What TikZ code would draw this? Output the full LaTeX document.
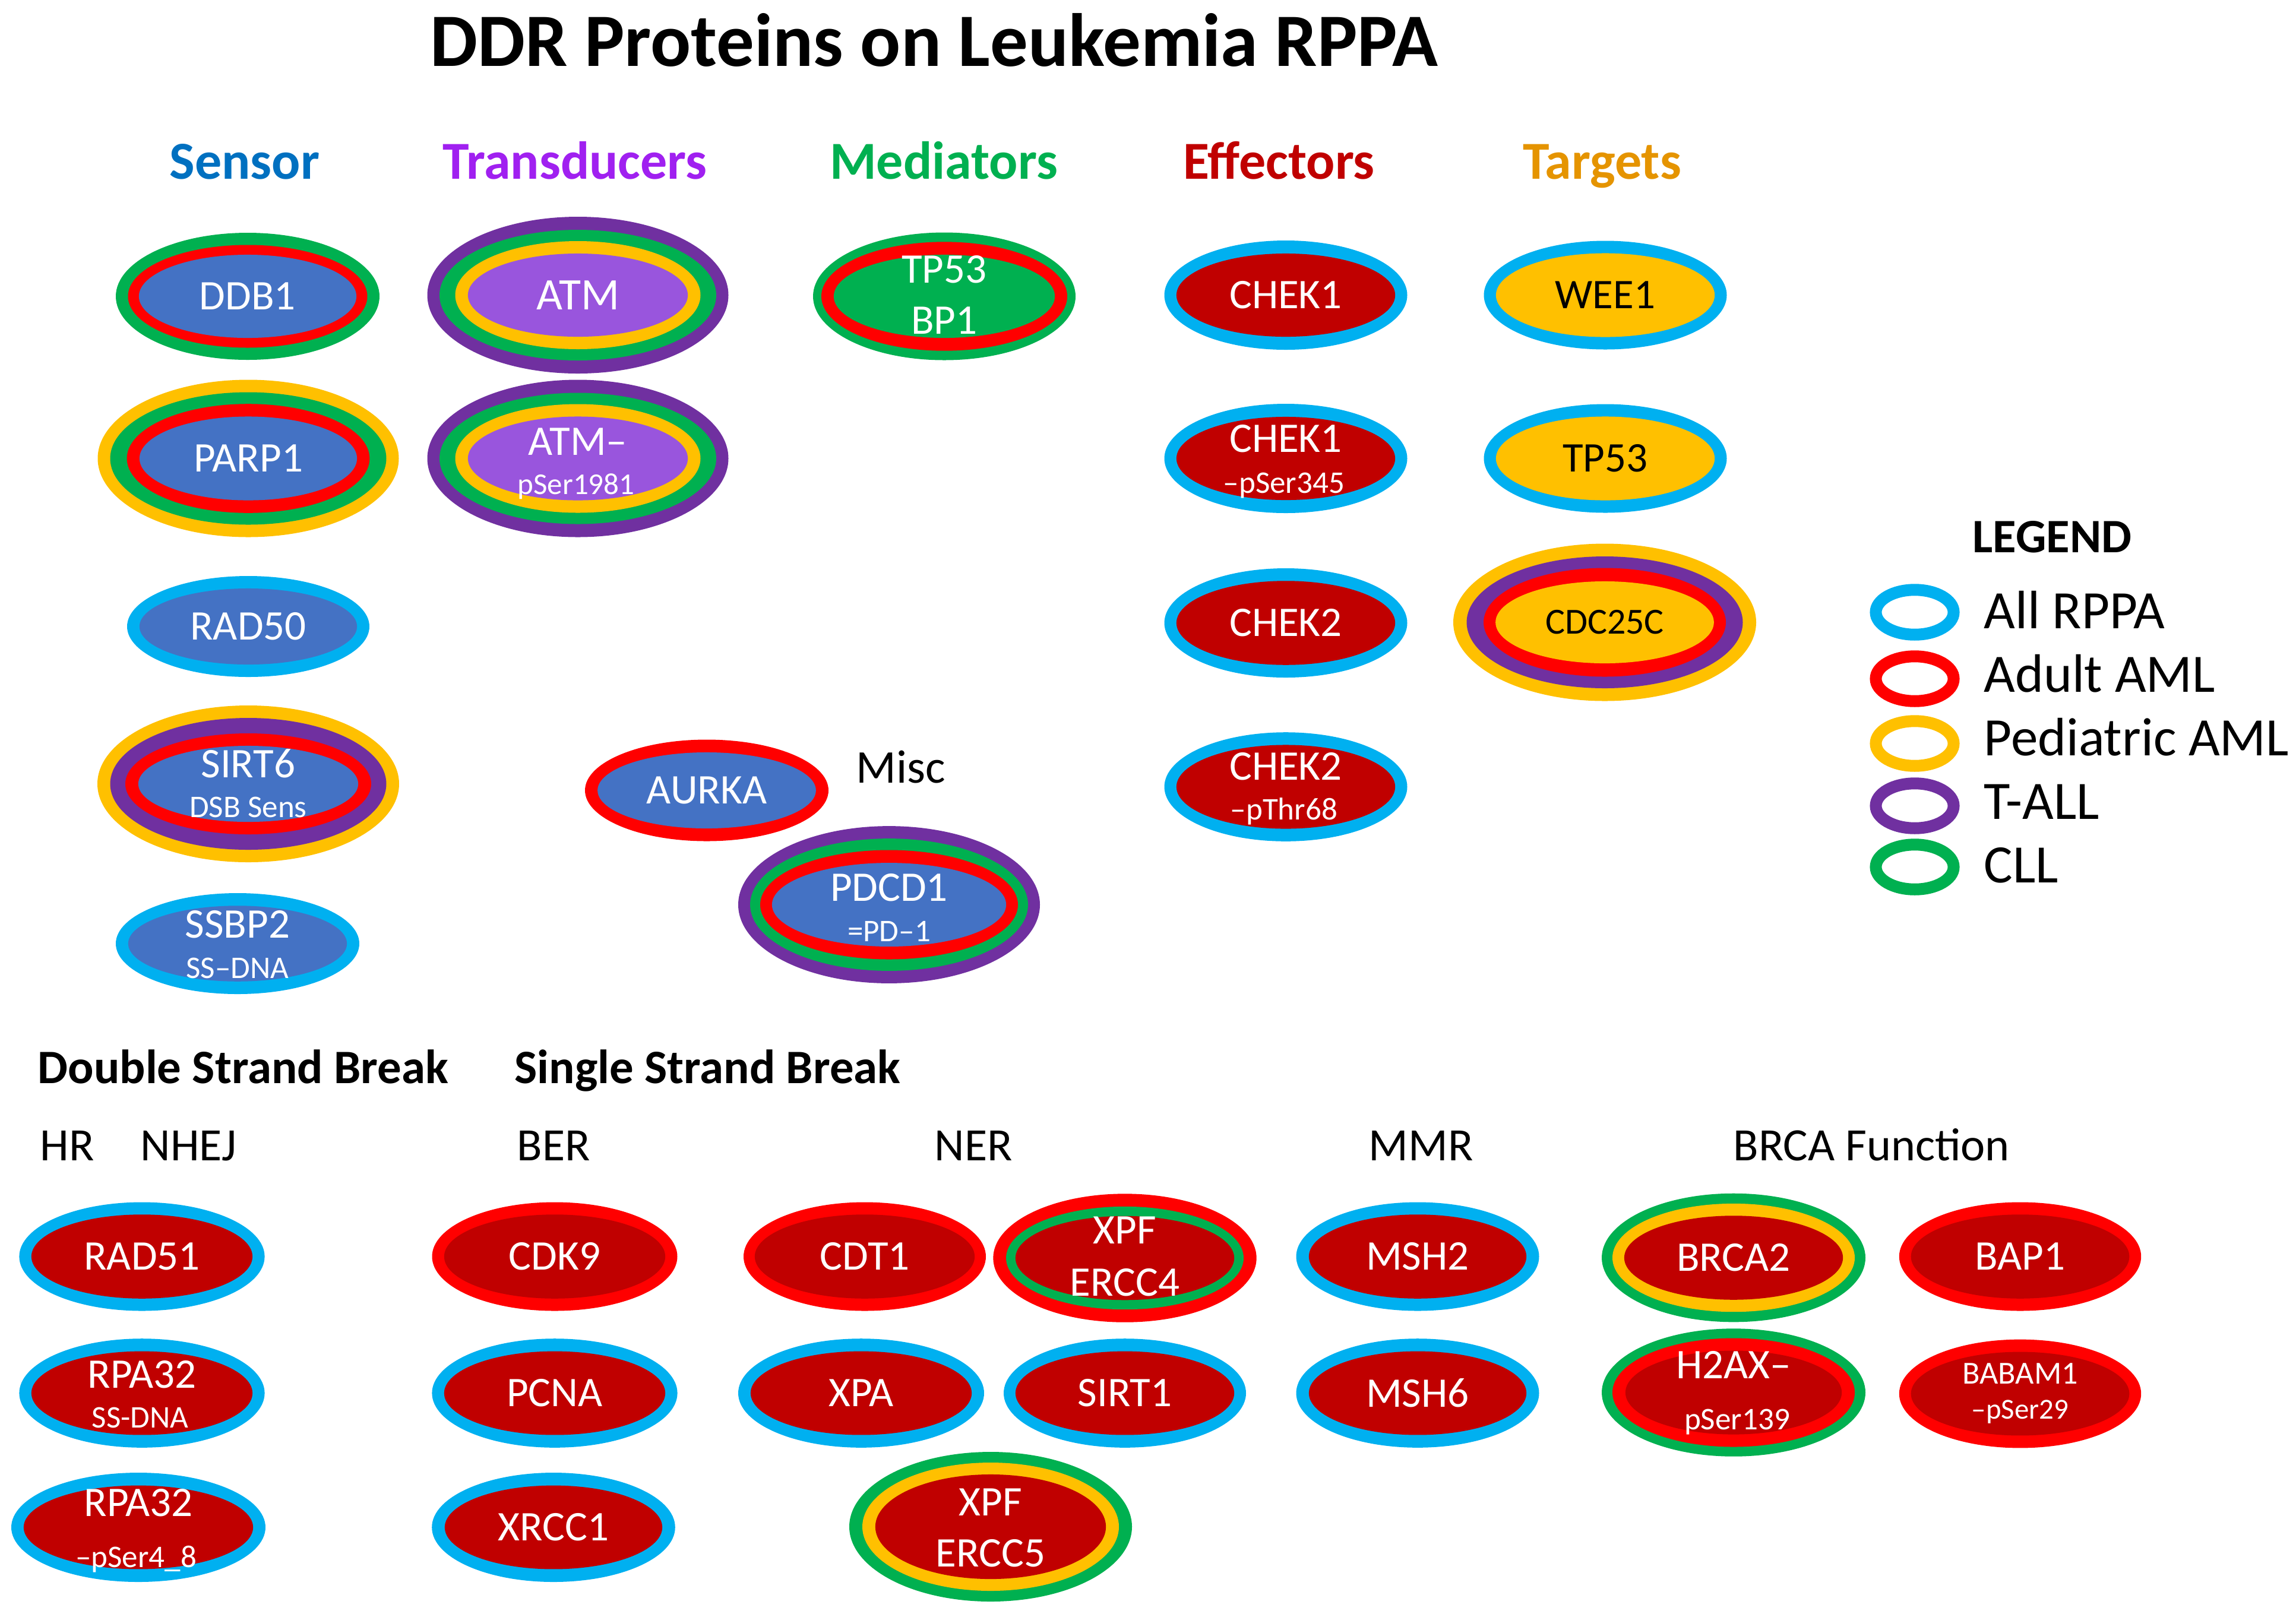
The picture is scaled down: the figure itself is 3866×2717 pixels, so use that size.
\documentclass[tikz,border=0pt]{standalone}
\usepackage{fontspec}
\setmainfont{Carlito}
\usetikzlibrary{shapes.geometric}
\definecolor{cAll}{HTML}{00B0F0}
\definecolor{cAdult}{HTML}{FF0000}
\definecolor{cPed}{HTML}{FFC000}
\definecolor{cTall}{HTML}{7030A0}
\definecolor{cCll}{HTML}{00B050}
\definecolor{fBlue}{HTML}{4472C4}
\definecolor{fPurple}{HTML}{9955DD}
\definecolor{fGreen}{HTML}{00B050}
\definecolor{fRed}{HTML}{C00000}
\definecolor{fYellow}{HTML}{FFC000}
\definecolor{hSensor}{HTML}{0070C0}
\definecolor{hTrans}{HTML}{A020F0}
\definecolor{hMed}{HTML}{00B050}
\definecolor{hEff}{HTML}{C00000}
\definecolor{hTarg}{HTML}{E59400}
\tikzset{
  prot/.style={ellipse, inner sep=0pt, text=white, font=\fontsize{20.2}{24}\selectfont},
  ptext/.style={anchor=base, inner sep=0pt, text=white, font=\fontsize{20.2}{24}\selectfont},
  psub/.style={anchor=base, inner sep=0pt, text=white, font=\fontsize{15.1}{18}\selectfont},
  hdr/.style={anchor=base, inner sep=0pt, font=\bfseries\fontsize{25.6}{30}\selectfont},
  sect/.style={anchor=base west, inner sep=0pt, font=\bfseries\fontsize{23}{28}\selectfont},
  sublab/.style={anchor=base west, inner sep=0pt, font=\fontsize{22.2}{26}\selectfont},
  legtext/.style={anchor=base west, inner sep=0pt, font=\fontsize{25.9}{30}\selectfont},
  legring/.style={ellipse, line width=0.2cm, inner sep=0pt, minimum width=1.31cm, minimum height=0.754cm},
}
% #1 text options, #2 name, #3 x, #4 y, #5 inner x-radius, #6 inner y-radius, #7 fill, #8 rings (colour/dx/dy, outermost first), #9 text
\newcommand\prot[9][]{%
  \foreach \rc/\rx/\ry in {#8} {\fill[\rc] (#3,#4) ellipse ({#5+\rx} and {#6+\ry});}
  \node[prot, fill=#7, minimum width={#5*0.02cm}, minimum height={#6*0.02cm}, #1] (#2) at (#3,#4) {#9};
}
\begin{document}
\begin{tikzpicture}[x=0.01cm, y=-0.01cm]
\useasboundingbox (0,0) rectangle (3866,2717);

% title and column headers
\node[anchor=base, inner sep=0pt, font=\bfseries\fontsize{36.1}{42}\selectfont] (title) at (1573,111) {DDR Proteins on Leukemia RPPA};
\node[hdr, text=hSensor] (hsensor) at (412,301) {Sensor};
\node[hdr, text=hTrans] (htrans) at (968,301) {Transducers};
\node[hdr, text=hMed] (hmed) at (1589,301) {Mediators};
\node[hdr, text=hEff] (heff) at (2153.5,301) {Effectors};
\node[hdr, text=hTarg] (htarg) at (2697.5,301) {Targets};

% Sensor
\prot{ddb1}{417}{499}{183}{70}{fBlue}{cCll/39/37,cAdult/18.5/16.5}{DDB1}
\prot{parp1}{418}{772}{183}{70.5}{fBlue}{cPed/70.5/62,cCll/49.5/41,cAdult/21.4/21.3}{PARP1}
\prot{rad50}{418}{1055}{183}{64}{fBlue}{cAll/21/21}{RAD50}
\prot{sirt6}{418}{1320}{185}{64}{fBlue}{cPed/69/68,cTall/47.5/47,cAdult/22/21}{}
\node[ptext] (sirt6-a) at (418,1309) {SIRT6};
\node[psub] (sirt6-b) at (418,1376) {DSB Sens};
\prot{ssbp2}{400}{1589}{184}{63.7}{fBlue}{cAll/21/21.3}{}
\node[ptext] (ssbp2-a) at (400,1579) {SSBP2};
\node[psub] (ssbp2-b) at (400,1647) {SS–DNA};

% Transducers
\prot[font=\fontsize{21.6}{26}\selectfont]{atm}{973}{497}{185}{70}{fPurple}{cTall/68.5/62,cCll/48/40,cPed/21.5/21}{ATM}
\prot{atmp}{973}{772}{185}{70.5}{fPurple}{cTall/68.5/62,cCll/48/40,cPed/21.5/21}{}
\node[ptext] (atmp-a) at (973,766) {ATM–};
\node[psub, font=\fontsize{14.5}{18}\selectfont] (atmp-b) at (970,832) {pSer1981};

% Mediators
\prot{tp53bp1}{1590}{499}{186}{70}{fGreen}{cCll/35/37.5,cAdult/21/21.7}{}
\node[ptext] (tp53bp1-a) at (1590,476) {TP53};
\node[ptext] (tp53bp1-b) at (1590,562) {BP1};

% Effectors
\prot{chek1}{2165}{497}{184}{70}{fRed}{cAll/20.5/22}{CHEK1}
\prot{chek1p}{2165}{772}{184}{70}{fRed}{cAll/20.5/22}{}
\node[ptext] (chek1p-a) at (2165,761) {CHEK1};
\node[psub] (chek1p-b) at (2162,830) {–pSer345};
\prot{chek2}{2165}{1049}{184}{70.7}{fRed}{cAll/20.5/21.3}{CHEK2}
\prot{chek2p}{2165}{1325}{184}{70.5}{fRed}{cAll/20.5/21.3}{}
\node[ptext] (chek2p-a) at (2165,1313) {CHEK2};
\node[psub] (chek2p-b) at (2162,1380) {–pThr68};

% Targets
\prot[text=black]{wee1}{2703}{497}{184}{70.5}{fYellow}{cAll/20.5/21}{WEE1}
\prot[text=black]{tp53}{2703}{772}{184}{70.5}{fYellow}{cAll/20.5/21}{TP53}
\prot[text=black, font=\fontsize{17.6}{21}\selectfont]{cdc25c}{2702}{1048}{183.7}{69}{fYellow}{cPed/71.3/63.5,cTall/48.8/42,cAdult/20.3/22.5}{CDC25C}

% Misc
\prot{aurka}{1190}{1331}{183.7}{64}{fBlue}{cAdult/21.3/21.5}{AURKA}
\node[anchor=base west, inner sep=0pt, font=\fontsize{22.5}{26}\selectfont] (misc) at (1441,1318) {Misc};
\prot{pdcd1}{1497}{1523.5}{197}{70.4}{fBlue}{cTall/57/62,cCll/37/41,cAdult/20/21.6}{}
\node[ptext] (pdcd1-a) at (1497,1517) {PDCD1};
\node[psub] (pdcd1-b) at (1497,1585) {=PD–1};

% Legend
\node[anchor=base west, inner sep=0pt, font=\bfseries\fontsize{23}{28}\selectfont] (legend) at (3321,930) {LEGEND};
\node[legring, draw=cAll] (lg1) at (3224,1031) {};
\node[legring, draw=cAdult] (lg2) at (3224,1143) {};
\node[legring, draw=cPed] (lg3) at (3224,1252) {};
\node[legring, draw=cTall] (lg4) at (3224,1357) {};
\node[legring, draw=cCll] (lg5) at (3224,1460) {};
\node[legtext] (lt1) at (3340,1058) {All RPPA};
\node[legtext] (lt2) at (3340,1165) {Adult AML};
\node[legtext] (lt3) at (3340,1272) {Pediatric AML};
\node[legtext] (lt4) at (3340,1379) {T-ALL};
\node[legtext] (lt5) at (3340,1486) {CLL};

% bottom section labels
\node[sect] (dsb) at (63,1824.5) {Double Strand Break};
\node[sect] (ssb) at (866,1824.5) {Single Strand Break};
\node[sublab] (hr) at (67,1954) {HR};
\node[sublab] (nhej) at (236,1954) {NHEJ};
\node[sublab] (ber) at (870,1954) {BER};
\node[sublab] (ner) at (1573,1954) {NER};
\node[sublab] (mmr) at (2304,1954) {MMR};
\node[sublab] (brcaf) at (2918,1954) {BRCA Function};

% HR / NHEJ
\prot{rad51}{239}{2116}{186}{70.7}{fRed}{cAll/20.6/20.8}{RAD51}
\prot{rpa32a}{239}{2346}{186}{70.4}{fRed}{cAll/20.6/21.4}{}
\node[ptext] (rpa32a-a) at (239,2337) {RPA32};
\node[psub] (rpa32a-b) at (236,2404) {SS-DNA};
\prot{rpa32b}{233}{2572}{193}{70.4}{fRed}{cAll/21/21.6}{}
\node[ptext] (rpa32b-a) at (233,2553) {RPA32};
\node[psub] (rpa32b-b) at (229,2639) {–pSer4\_8};

% BER
\prot{cdk9}{934}{2116}{186}{70.7}{fRed}{cAdult/20.5/20.8}{CDK9}
\prot{pcna}{934}{2346}{186}{70.4}{fRed}{cAll/20.6/21.4}{PCNA}
\prot{xrcc1}{932}{2572}{183}{70.4}{fRed}{cAll/21.8/21.6}{XRCC1}

% NER
\prot{cdt1}{1456}{2116}{185}{70.7}{fRed}{cAdult/19/20.8}{CDT1}
\prot{ercc4}{1894}{2118.5}{184}{70.7}{fRed}{cAdult/37.7/37.5,cCll/16/16}{}
\node[ptext] (ercc4-a) at (1894,2094) {XPF};
\node[ptext] (ercc4-b) at (1894,2182) {ERCC4};
\prot{xpa}{1450}{2346}{186}{70.4}{fRed}{cAll/21/21.4}{XPA}
\prot{sirt1}{1894}{2346}{184}{70.4}{fRed}{cAll/20/21.4}{SIRT1}
\prot{ercc5}{1668}{2571}{194}{88}{fRed}{cCll/44/38,cPed/22/20}{}
\node[ptext] (ercc5-a) at (1668,2552) {XPF};
\node[ptext] (ercc5-b) at (1668,2638) {ERCC5};

% MMR
\prot{msh2}{2387}{2116}{183}{70.7}{fRed}{cAll/21.5/20.8}{MSH2}
\prot{msh6}{2387}{2346}{183}{70.4}{fRed}{cAll/21.5/21.4}{MSH6}

% BRCA function
\prot{brca2}{2919}{2118}{184}{70.7}{fRed}{cCll/38/37.6,cPed/20/20.5}{BRCA2}
\prot{h2ax}{2919}{2345}{182}{70.5}{fRed}{cCll/40/37.2,cAdult/22/21}{}
\node[ptext] (h2ax-a) at (2919,2321) {H2AX–};
\node[psub] (h2ax-b) at (2925,2407) {pSer139};
\prot{bap1}{3401.5}{2116}{183.7}{70.7}{fRed}{cAdult/20/20.8}{BAP1}
\prot{babam1}{3401.5}{2347}{183.7}{70.4}{fRed}{cAdult/20/21}{}
\node[psub, font=\fontsize{15.4}{18}\selectfont] (babam1-a) at (3401.5,2330) {BABAM1};
\node[psub, font=\fontsize{13.9}{17}\selectfont] (babam1-b) at (3401.5,2389) {–pSer29};
\end{tikzpicture}
\end{document}
